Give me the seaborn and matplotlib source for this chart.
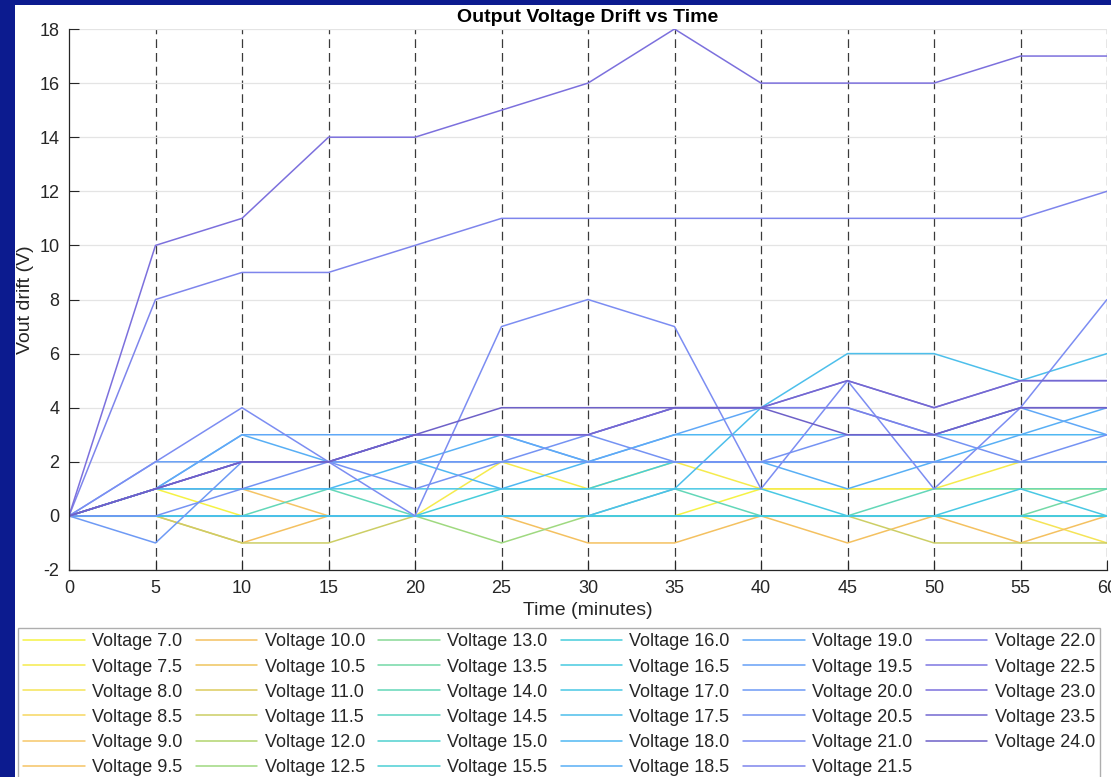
import numpy as np
import pandas as pd
import matplotlib
matplotlib.use("Agg")
import matplotlib.pyplot as plt
from matplotlib.patches import Rectangle
from matplotlib.colors import LinearSegmentedColormap, to_rgb
import seaborn as sns

# ---------------- data ----------------
time_min = [0, 5, 10, 15, 20, 25, 30, 35, 40, 45, 50, 55, 60]
voltages = [7.0, 7.5, 8.0, 8.5, 9.0, 9.5, 10.0, 10.5, 11.0, 11.5, 12.0, 12.5,
            13.0, 13.5, 14.0, 14.5, 15.0, 15.5, 16.0, 16.5, 17.0, 17.5, 18.0,
            18.5, 19.0, 19.5, 20.0, 20.5, 21.0, 21.5, 22.0, 22.5, 23.0, 23.5, 24.0]

d_7_0 = [0, 1, 0, 0, 0, 0, 0, 0, 1, 1, 1, 1, 1]
d_7_5 = [0, 0, 0, 0, 0, 2, 1, 2, 1, 1, 1, 2, 2]
d_8_0 = [0, 0, 0, 0, 0, 0, 0, 0, 0, 0, 0, 0, -1]
d_8_5 = [0, 0, 0, 0, 0, 0, 0, 0, 0, 0, 0, 0, 0]
d_9_0 = [0, 0, 0, 0, 0, 0, 0, 0, 0, 0, 0, 0, 0]
d_9_5 = [0, 1, 1, 0, 0, 0, 0, 0, 0, 0, 0, 0, 0]
d_10_0 = [0, 0, -1, 0, 0, 0, -1, -1, 0, -1, 0, -1, 0]
d_10_5 = [0, 0, 0, 0, 0, 0, 0, 0, 0, 0, 0, 0, 0]
d_11_0 = [0, 0, 0, 0, 0, 0, 0, 0, 0, 0, 0, 0, 0]
d_11_5 = [0, 0, -1, -1, 0, 0, 0, 0, 0, 0, -1, -1, -1]
d_12_0 = [0, 0, 0, 0, 0, 0, 0, 0, 0, 0, 0, 0, 0]
d_12_5 = [0, 0, 0, 0, 0, -1, 0, 0, 0, 0, 0, 0, 0]
d_13_0 = [0, 0, 0, 0, 0, 0, 0, 0, 0, 0, 0, 0, 0]
d_13_5 = [0, 0, 0, 0, 0, 0, 0, 0, 0, 0, 0, 0, 1]
d_14_0 = [0, 0, 0, 1, 0, 0, 0, 1, 0, 0, 1, 1, 1]
d_14_5 = [0, 0, 0, 0, 0, 0, 0, 0, 0, 0, 0, 0, 0]
d_15_0 = [0, 0, 0, 0, 0, 0, 0, 0, 0, 0, 0, 0, 0]
d_15_5 = [0, 0, 0, 0, 0, 0, 0, 0, 0, 0, 0, 0, 0]
d_16_0 = [0, 0, 0, 0, 0, 1, 1, 2, 2, 2, 2, 2, 2]
d_16_5 = [0, 0, 0, 0, 0, 0, 0, 0, 0, 0, 0, 0, 0]
d_17_0 = [0, 1, 1, 1, 1, 1, 1, 1, 1, 0, 0, 1, 0]
d_17_5 = [0, 0, 0, 0, 0, 0, 0, 1, 4, 6, 6, 5, 6]
d_18_0 = [0, 1, 1, 1, 2, 1, 2, 3, 3, 3, 3, 3, 3]
d_18_5 = [0, 1, 3, 2, 2, 3, 2, 2, 2, 1, 2, 3, 4]
d_19_0 = [0, 1, 3, 3, 3, 3, 2, 3, 4, 4, 3, 4, 3]
d_19_5 = [0, 2, 2, 2, 2, 2, 2, 2, 2, 2, 2, 2, 2]
d_20_0 = [0, -1, 2, 2, 2, 2, 2, 2, 2, 2, 2, 2, 2]
d_20_5 = [0, 0, 1, 2, 1, 2, 3, 2, 2, 3, 3, 2, 3]
d_21_0 = [0, 2, 4, 2, 0, 7, 8, 7, 1, 5, 1, 4, 8]
d_21_5 = [0, 8, 9, 9, 10, 11, 11, 11, 11, 11, 11, 11, 12]
d_22_0 = [0, 1, 2, 2, 3, 3, 3, 4, 4, 4, 3, 4, 4]
d_22_5 = [0, 1, 2, 2, 3, 3, 3, 4, 4, 5, 4, 5, 5]
d_23_0 = [0, 10, 11, 14, 14, 15, 16, 18, 16, 16, 16, 17, 17]
d_23_5 = [0, 1, 2, 2, 3, 3, 3, 4, 4, 5, 4, 5, 5]
d_24_0 = [0, 1, 2, 2, 3, 4, 4, 4, 4, 3, 3, 4, 4]

series = [d_7_0, d_7_5, d_8_0, d_8_5, d_9_0, d_9_5, d_10_0, d_10_5, d_11_0,
          d_11_5, d_12_0, d_12_5, d_13_0, d_13_5, d_14_0, d_14_5, d_15_0,
          d_15_5, d_16_0, d_16_5, d_17_0, d_17_5, d_18_0, d_18_5, d_19_0,
          d_19_5, d_20_0, d_20_5, d_21_0, d_21_5, d_22_0, d_22_5, d_23_0,
          d_23_5, d_24_0]

labels = [f"Voltage {v:.1f}" for v in voltages]
rows = []
for lab, ys in zip(labels, series):
    for t, y in zip(time_min, ys):
        rows.append((lab, t, y))
df = pd.DataFrame(rows, columns=["Series", "Time", "Drift"])

# ---------------- style ----------------
sns.set_theme(style="white")
plt.rcParams["font.family"] = ["Liberation Sans", "DejaVu Sans"]
plt.rcParams["axes.unicode_minus"] = False

anchor_v = [7.0, 8.0, 9.0, 10.0, 10.5, 11.0, 11.5, 12.0, 12.5, 13.0, 13.5, 14.0,
            15.0, 16.0, 17.0, 18.0, 19.0, 20.0, 21.0, 22.0, 23.0, 24.0]
anchor_c = ["#f4f02a", "#f4e040", "#f5c055", "#f2b84a", "#ecbe48", "#d8c448",
            "#c4c850", "#a8cf5a", "#90d470", "#78d488", "#60d49c", "#4ed2ae",
            "#38cbc8", "#2ec6d6", "#30c0e0", "#38aef0", "#4a9cf6", "#5a8cf4",
            "#6a7ef0", "#6e6ce4", "#6a5cd8", "#5a4cc0"]
cmap = LinearSegmentedColormap.from_list(
    "drift", list(zip([(v - 7.0) / 17.0 for v in anchor_v], anchor_c)))
# opaque, slightly lightened colours (so overlapping lines do not darken)
palette = []
for v in voltages:
    r, g, b = to_rgb(cmap((v - 7.0) / 17.0))
    k = 0.12
    palette.append((r + (1 - r) * k, g + (1 - g) * k, b + (1 - b) * k))

W, H = 1111, 777
fig = plt.figure(figsize=(W / 100, H / 100), dpi=100)
fig.patch.set_facecolor("#0c1b8f")
fig.add_artist(Rectangle((15 / W, 0), 1 - 15 / W, 1 - 5 / H,
                         transform=fig.transFigure, facecolor="white",
                         edgecolor="none", zorder=-10))

ax = fig.add_axes([69 / W, 1 - 570 / H, (1107 - 69) / W, (570 - 29) / H])
ax.set_facecolor("white")

sns.lineplot(data=df, x="Time", y="Drift", hue="Series", palette=palette,
             hue_order=labels, linewidth=1.1, alpha=1.0, ax=ax, legend=True,
             errorbar=None, sort=False)

for t in time_min[1:]:
    ax.axvline(t, color="#3a3a3a", lw=0.9, ls=(0, (7, 4)), zorder=0.5)

ax.set_xlim(0, 60)
ax.set_ylim(-2, 18)
ax.set_xticks(time_min)
ax.set_yticks(range(-2, 19, 2))
ax.yaxis.grid(True, color="#e4e4e4", lw=0.9)
ax.xaxis.grid(False)
ax.set_axisbelow(True)
for s in ["top", "right"]:
    ax.spines[s].set_visible(False)
for s in ["left", "bottom"]:
    ax.spines[s].set_color("#262626")
    ax.spines[s].set_linewidth(0.9)
ax.tick_params(direction="in", length=7, width=0.8, color="#262626",
               labelsize=13, labelcolor="#262626", left=True, bottom=True, pad=7)

ax.set_title("Output Voltage Drift vs Time", fontsize=14, fontweight="bold",
             color="black", pad=5)
ax.set_xlabel("Time (minutes)", fontsize=14, color="#262626", labelpad=4)
ax.set_ylabel("Vout drift (V)", fontsize=14, color="#262626", labelpad=4)

handles, labs = ax.get_legend_handles_labels()
ax.get_legend().remove()
leg = ax.legend(handles, labs, ncol=6, loc="upper left",
                bbox_to_anchor=(18 / W, 1 - 628 / H), bbox_transform=fig.transFigure,
                fontsize=13, frameon=True, fancybox=False, edgecolor="#9a9a9a",
                handlelength=3.4, handletextpad=0.4, columnspacing=0.75,
                labelspacing=0.45, borderpad=0.3, borderaxespad=0)
leg.get_frame().set_linewidth(1.0)
for t in leg.get_texts():
    t.set_color("#262626")

fig.savefig("out.png", dpi=100, facecolor=fig.get_facecolor())
